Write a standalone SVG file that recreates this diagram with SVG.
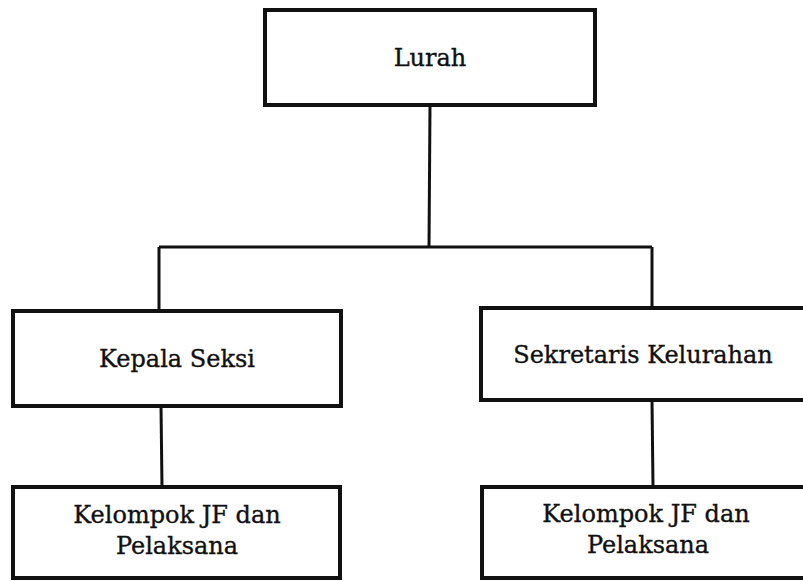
<svg xmlns="http://www.w3.org/2000/svg" width="803" height="581" viewBox="0 0 803 581">
<style>
.box{fill:#fff;stroke:#111;stroke-width:4}
.conn{stroke:#111;stroke-width:3;fill:none}
.t{font-family:"DejaVu Serif","Liberation Serif",serif;font-size:24px;fill:#111;stroke:#111;stroke-width:0.35;text-anchor:middle}
</style>
<rect width="803" height="581" fill="#fff"/>
<g id="connectors">
<path class="conn" d="M430,105 L429,247"/>
<path class="conn" d="M159,247 L652,247"/>
<path class="conn" d="M159,247 L159,311"/>
<path class="conn" d="M652,247 L652,308"/>
<path class="conn" d="M161,406 L162,487"/>
<path class="conn" d="M652,400 L653,487"/>
</g>
<g id="lurah">
<rect class="box" x="265" y="10" width="330" height="95"/>
<text class="t" x="430" y="66">Lurah</text>
</g>
<g id="kepala-seksi">
<rect class="box" x="13" y="311" width="328" height="95"/>
<text class="t" x="177" y="367">Kepala Seksi</text>
</g>
<g id="sekretaris-kelurahan">
<rect class="box" x="481" y="308" width="330" height="92"/>
<text class="t" x="643" y="363">Sekretaris Kelurahan</text>
</g>
<g id="kelompok-jf-kiri">
<rect class="box" x="13" y="487" width="327" height="91"/>
<text class="t" x="177" y="523">Kelompok JF dan</text>
<text class="t" x="177" y="554">Pelaksana</text>
</g>
<g id="kelompok-jf-kanan">
<rect class="box" x="482" y="487" width="330" height="91"/>
<text class="t" x="646" y="522">Kelompok JF dan</text>
<text class="t" x="648" y="553">Pelaksana</text>
</g>
</svg>
